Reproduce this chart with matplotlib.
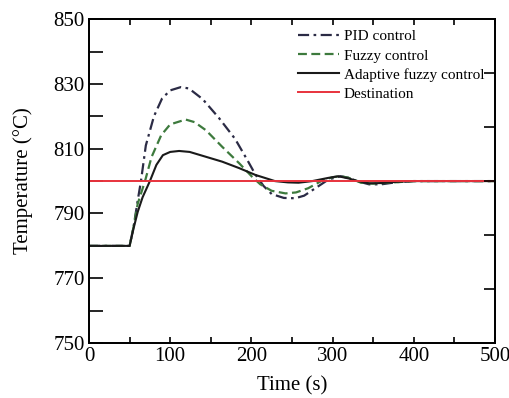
import matplotlib
matplotlib.use("Agg")
import matplotlib.pyplot as plt
from matplotlib.ticker import MultipleLocator

plt.rcParams['font.family'] = ['Liberation Serif', 'DejaVu Serif']

# Valores
t_pid = [0, 50, 55, 60, 64, 70, 80, 90, 100, 113, 123, 140, 160, 180, 195, 205, 215, 225,
         240, 254, 265, 280, 295, 310, 320, 330, 345, 360, 380, 400, 450, 500]
T_pid = [780, 780, 786, 794, 800, 811, 820, 825.5, 828, 829, 828.6, 825.3, 819.5, 813, 806.5,
         802, 798.5, 796, 794.8, 794.7, 795.5, 798, 800.5, 801.5, 801, 800, 799, 799, 799.7,
         800, 800, 800]

t_fuzzy = [0, 50, 55, 60, 69, 77, 89, 100, 119, 130, 144, 164, 185, 201, 211, 225, 242, 255,
           270, 286, 300, 310, 320, 335, 350, 370, 400, 450, 500]
T_fuzzy = [780, 780, 786, 793, 800, 807.4, 814.2, 817.5, 819, 818.2, 815.7, 810.6, 805.5,
           801.3, 799, 797, 796.2, 796.5, 797.8, 800, 801.2, 801.5, 801, 799.5, 799.2, 799.5,
           800, 800, 800]

t_adapt = [0, 50, 55, 60, 66, 75, 83, 91, 100, 111, 124, 140, 164, 185, 205, 229, 245, 258,
           275, 295, 307, 320, 331, 345, 360, 380, 400, 450, 500]
T_adapt = [780, 780, 785.5, 790.5, 795, 800, 805, 808, 809, 809.3, 809, 807.8, 806, 804,
           801.9, 800, 799.6, 799.5, 800, 801, 801.5, 800.8, 800, 799.3, 799.4, 799.8, 800,
           800, 800]

destino = 800
y_labels = [750, 770, 790, 810, 830, 850]
right_ticks = [750 + k * 100 / 6 for k in range(1, 6)]

fig = plt.figure(figsize=(5.1, 3.98), dpi=100)
ax = fig.add_axes([0.1745, 0.138, 0.796, 0.814])

ax.plot(t_pid, T_pid, color="#2b2b45", lw=1.6, linestyle=(0, (5, 2, 1.2, 2)), label="PID control")
ax.plot(t_fuzzy, T_fuzzy, color="#3d7a3d", lw=1.6, linestyle=(0, (4, 2)), label="Fuzzy control")
ax.plot(t_adapt, T_adapt, color="#1a1a1a", lw=1.5, label="Adaptive fuzzy control")
ax.axhline(destino, color="#e8323c", lw=1.4, label="Destination")

ax.set_xlim(0, 500)
ax.set_ylim(750, 850)
ax.xaxis.set_major_locator(MultipleLocator(100))
ax.xaxis.set_minor_locator(MultipleLocator(50))
ax.set_yticks(y_labels)
ax.yaxis.set_minor_locator(MultipleLocator(10))

ax.tick_params(axis='x', which='both', direction='in', top=True, length=4, width=1.2,
               labelsize=15, pad=3)
ax.tick_params(axis='y', which='both', direction='in', right=False, length=10, width=1.2,
               labelsize=15, pad=3)

ax2 = ax.twinx()
ax2.set_ylim(750, 850)
ax2.set_yticks(right_ticks)
ax2.set_yticklabels([])
ax2.tick_params(axis='y', direction='in', length=8, width=1.2)

for a in (ax, ax2):
    for s in a.spines.values():
        s.set_linewidth(1.3)

ax.set_xlabel("Time (s)", fontsize=15, labelpad=7)
ax.set_ylabel("Temperature (°C)", fontsize=15, labelpad=15)

ax.legend(loc="upper right", bbox_to_anchor=(1.0, 1.0), frameon=False, fontsize=11,
          handlelength=2.7, handletextpad=0.3, labelspacing=0.35, borderaxespad=0.3)

fig.savefig("out.png", dpi=100)
